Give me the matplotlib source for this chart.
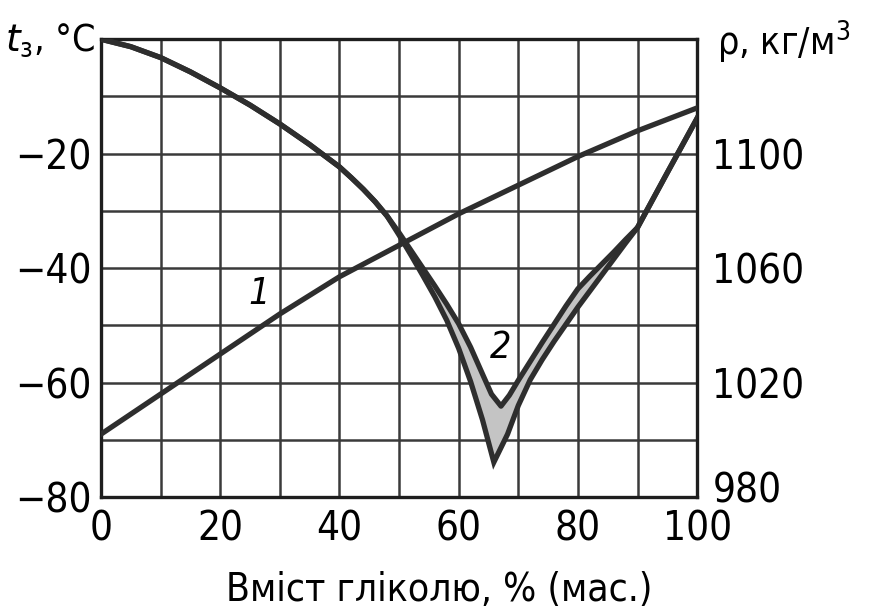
import matplotlib.pyplot as plt

# glycol content, % (mass)
dens_x = [0, 10, 20, 30, 40, 50, 60, 70, 80, 90, 100]
# curve 1: density, kg/m3
dens_y = [1002, 1016, 1030, 1044, 1057, 1068, 1079, 1089, 1099, 1108, 1116]

# curve 2: freezing point, upper boundary of the band
upper_x = [0, 5, 10, 15, 20, 25, 30, 35, 40, 42, 44, 46, 48, 50, 52, 54, 56, 58, 60, 62, 64,
           65.5, 67.1, 68.5, 70, 72, 74, 76, 78, 80, 82, 84, 86, 88, 90, 95, 100]
upper_y = [0, -1.3, -3.2, -5.7, -8.5, -11.5, -14.8, -18.4, -22.3, -24.2, -26.2, -28.4, -30.9,
           -33.8, -36.9, -40, -43.1, -46.3, -49.7, -53.8, -58.5,
           -62, -64.1, -62.2, -59.6, -56.3, -53, -49.8, -46.6, -43.6, -41.4, -39.3, -37.2,
           -35, -32.9, -23.3, -13.8]
# lower boundary of the band
lower_x = [0, 5, 10, 15, 20, 25, 30, 35, 40, 42, 44, 46, 48, 50, 52, 54, 56, 58, 60, 62, 64,
           65.9, 68.2, 70, 72, 74, 76, 78, 80, 82, 84, 86, 88, 90, 95, 100]
lower_y = [0, -1.3, -3.2, -5.7, -8.5, -11.5, -14.8, -18.4, -22.3, -24.2, -26.2, -28.4, -30.9,
           -34.2, -37.7, -41.3, -45, -49.1, -54, -59.8, -66.5,
           -73.9, -69, -64, -59.5, -56, -52.8, -49.8, -46.8, -44, -41.2, -38.4, -35.6,
           -32.9, -23.3, -13.8]

x_ticks = [0, 20, 40, 60, 80, 100]
t_ticks = [-20, -40, -60, -80]
rho_ticks = [1100, 1060, 1020, 980]

font = ['DejaVu Sans', 'Noto Sans']
cond = 'condensed'
ink = '#2e2e2e'

fig = plt.figure(figsize=(8.78, 6.13), dpi=100)
ax = fig.add_axes([0.115, 0.189, 0.679, 0.747])

ax.fill(upper_x + lower_x[::-1], upper_y + lower_y[::-1], color='#c4c4c4', lw=0, zorder=2)
ax.plot(upper_x, upper_y, color=ink, lw=3.8, solid_joinstyle='round', zorder=3)
ax.plot(lower_x, lower_y, color=ink, lw=3.8, solid_joinstyle='miter', zorder=3)

ax.set_xlim(0, 100)
ax.set_ylim(-80, 0)
ax.set_xticks(range(0, 101, 10))
ax.set_yticks(range(-80, 1, 10))
ax.grid(True, color='#3a3a3a', lw=1.8)
ax.tick_params(axis='y', length=0, labelsize=29, pad=7)
ax.tick_params(axis='x', length=0, labelsize=29, pad=9)
ax.set_xticklabels([str(v) if v in x_ticks else '' for v in range(0, 101, 10)],
                   family=font, stretch=cond)
ax.set_yticklabels(['\u2212' + str(-v) if v in t_ticks else '' for v in range(-80, 1, 10)],
                   family=font, stretch=cond)
for s in ax.spines.values():
    s.set_linewidth(2.4)
    s.set_color('#1e1e1e')

ax2 = ax.twinx()
ax2.plot(dens_x, dens_y, color=ink, lw=3.8, zorder=3)
ax2.set_ylim(980, 1140)
ax2.set_yticks(rho_ticks)
# the lowest label sits a little higher so it clears the "100" below it
ax2.set_yticklabels([str(v) if v != rho_ticks[-1] else '' for v in rho_ticks],
                    family=font, stretch=cond)
ax2.tick_params(length=0, labelsize=29, pad=11)
ax2.annotate(str(rho_ticks[-1]), xy=(1, rho_ticks[-1]), xycoords=('axes fraction', 'data'),
             xytext=(11, 4), textcoords='offset points', fontsize=29, family=font,
             stretch=cond, ha='left', va='center')
for s in ax2.spines.values():
    s.set_visible(False)

ax.text(67, -54, '2', fontsize=27, style='italic', family=font, stretch=cond,
        ha='center', va='center', zorder=4)
ax.text(26.5, -44.5, '1', fontsize=27, style='italic', family=font, stretch=cond,
        ha='center', va='center', zorder=4)

fig.text(0.108, 0.934, '$t_\\mathregular{з}$, °C', fontsize=27, family=font, stretch=cond,
         ha='right', va='center')
fig.text(0.817, 0.93, '\u03c1, кг/м$^\\mathregular{3}$', fontsize=27, family=font, stretch=cond,
         ha='left', va='center')
fig.text(0.5, 0.038, 'Вміст гліколю, % (мас.)', fontsize=28, family=font, stretch=cond,
         ha='center', va='center')

fig.savefig('out.png', dpi=100)
